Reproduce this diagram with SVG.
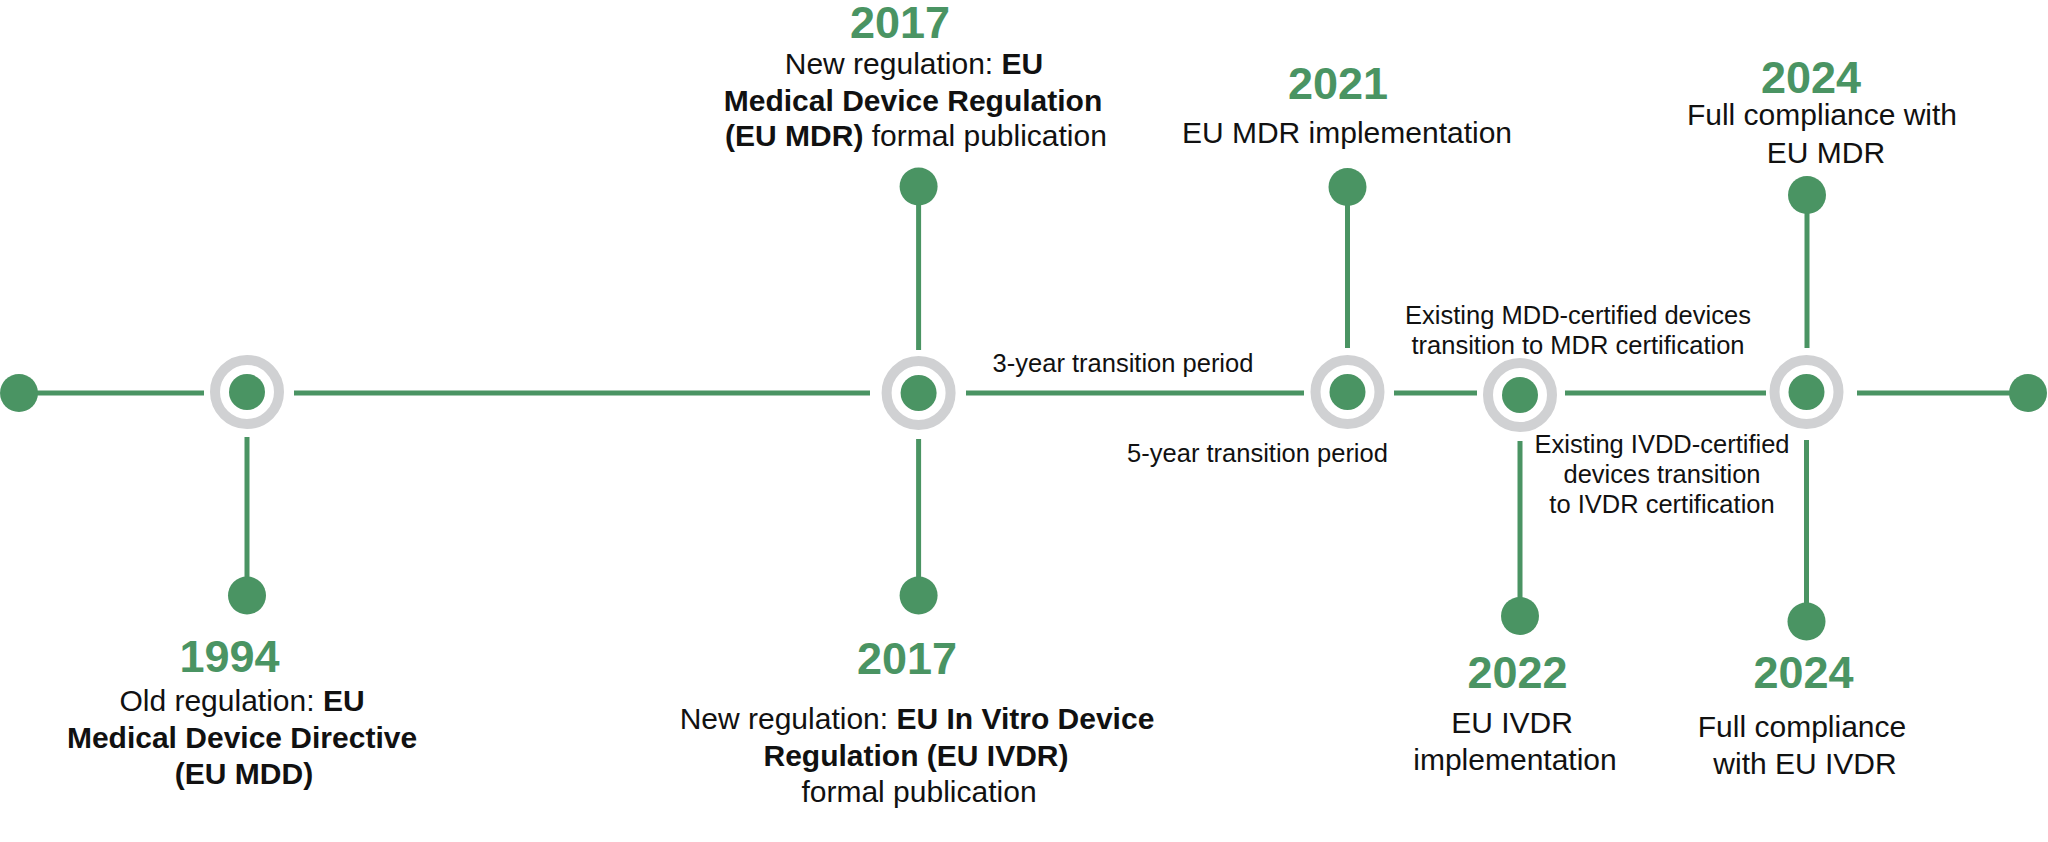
<svg xmlns="http://www.w3.org/2000/svg" width="2048" height="842" viewBox="0 0 2048 842">
<style>
.dot{fill:#4a9463}
.ring{fill:none;stroke:#d0d1d3;stroke-width:10}
.conn{stroke:#4a9463;stroke-width:5;fill:none}
.year{font-family:"Liberation Sans",Arial,sans-serif;font-weight:bold;font-size:45px;fill:#4a9463;text-anchor:middle}
.body{font-family:"Liberation Sans",Arial,sans-serif;font-size:30px;fill:#111;text-anchor:middle}
.lbl{font-family:"Liberation Sans",Arial,sans-serif;font-size:25.5px;fill:#111;text-anchor:middle}
.b{font-weight:bold}
</style>
<rect width="2048" height="842" fill="#fff"/>
<g id="connectors">
<line class="conn" x1="19" y1="393" x2="204" y2="393"/>
<line class="conn" x1="294" y1="393" x2="870" y2="393"/>
<line class="conn" x1="966" y1="393" x2="1304" y2="393"/>
<line class="conn" x1="1394" y1="393" x2="1477" y2="393"/>
<line class="conn" x1="1565" y1="393" x2="1766" y2="393"/>
<line class="conn" x1="1857" y1="393" x2="2028" y2="393"/>
<line class="conn" x1="247" y1="437" x2="247" y2="595"/>
<line class="conn" x1="918.6" y1="187" x2="918.6" y2="350"/>
<line class="conn" x1="918.6" y1="439" x2="918.6" y2="595"/>
<line class="conn" x1="1347.5" y1="187" x2="1347.5" y2="348"/>
<line class="conn" x1="1520" y1="441" x2="1520" y2="616"/>
<line class="conn" x1="1807" y1="195" x2="1807" y2="348"/>
<line class="conn" x1="1806.5" y1="440" x2="1806.5" y2="621"/>
</g>
<g id="transition-labels">
<text class="lbl" x="1123" y="372">3-year transition period</text>
<text class="lbl" x="1257.5" y="462">5-year transition period</text>
<text class="lbl" x="1578" y="324">Existing MDD-certified devices</text>
<text class="lbl" x="1578" y="354">transition to MDR certification</text>
<text class="lbl" x="1662" y="453">Existing IVDD-certified</text>
<text class="lbl" x="1662" y="483">devices transition</text>
<text class="lbl" x="1662" y="513">to IVDR certification</text>
</g>
<g id="n-start"><circle class="dot" cx="19" cy="393" r="19"/></g>
<g id="n-1994">
<circle class="ring" cx="247" cy="392" r="32"/>
<circle class="dot" cx="247" cy="392" r="18"/>
</g>
<g id="e-1994">
<circle class="dot" cx="247" cy="595.5" r="19"/>
<text class="year" x="229.5" y="672">1994</text>
<text class="body" x="242" y="711">Old regulation: <tspan class="b">EU</tspan></text>
<text class="body b" x="242" y="748">Medical Device Directive</text>
<text class="body b" x="244" y="784">(EU MDD)</text>
</g>
<g id="n-2017">
<circle class="ring" cx="918.6" cy="393" r="32"/>
<circle class="dot" cx="918.6" cy="393" r="18"/>
</g>
<g id="e-2017-mdr">
<circle class="dot" cx="918.6" cy="186.5" r="19"/>
<text class="year" x="900" y="37.5">2017</text>
<text class="body" x="914" y="74">New regulation: <tspan class="b">EU</tspan></text>
<text class="body b" x="913" y="111">Medical Device Regulation</text>
<text class="body" x="916" y="146"><tspan class="b">(EU MDR)</tspan> formal publication</text>
</g>
<g id="e-2017-ivdr">
<circle class="dot" cx="918.6" cy="595.5" r="19"/>
<text class="year" x="907" y="674">2017</text>
<text class="body" x="917" y="729">New regulation: <tspan class="b">EU In Vitro Device</tspan></text>
<text class="body b" x="916" y="766">Regulation (EU IVDR)</text>
<text class="body" x="919" y="802">formal publication</text>
</g>
<g id="n-2021">
<circle class="ring" cx="1347.5" cy="392" r="32"/>
<circle class="dot" cx="1347.5" cy="392" r="18"/>
</g>
<g id="e-2021">
<circle class="dot" cx="1347.5" cy="187" r="19"/>
<text class="year" x="1338" y="99">2021</text>
<text class="body" x="1347" y="143">EU MDR implementation</text>
</g>
<g id="n-2022">
<circle class="ring" cx="1520" cy="395" r="32"/>
<circle class="dot" cx="1520" cy="395" r="18"/>
</g>
<g id="e-2022">
<circle class="dot" cx="1520" cy="616" r="19"/>
<text class="year" x="1517.5" y="688">2022</text>
<text class="body" x="1512" y="733">EU IVDR</text>
<text class="body" x="1515" y="770">implementation</text>
</g>
<g id="n-2024">
<circle class="ring" cx="1806.5" cy="392" r="32"/>
<circle class="dot" cx="1806.5" cy="392" r="18"/>
</g>
<g id="e-2024-mdr">
<circle class="dot" cx="1807" cy="195" r="19"/>
<text class="year" x="1811" y="92.5">2024</text>
<text class="body" x="1822" y="125">Full compliance with</text>
<text class="body" x="1826" y="162.5">EU MDR</text>
</g>
<g id="e-2024-ivdr">
<circle class="dot" cx="1806.5" cy="621.5" r="19"/>
<text class="year" x="1803.5" y="688">2024</text>
<text class="body" x="1802" y="736.5">Full compliance</text>
<text class="body" x="1805" y="774">with EU IVDR</text>
</g>
<g id="n-end"><circle class="dot" cx="2028" cy="393" r="19"/></g>
</svg>
